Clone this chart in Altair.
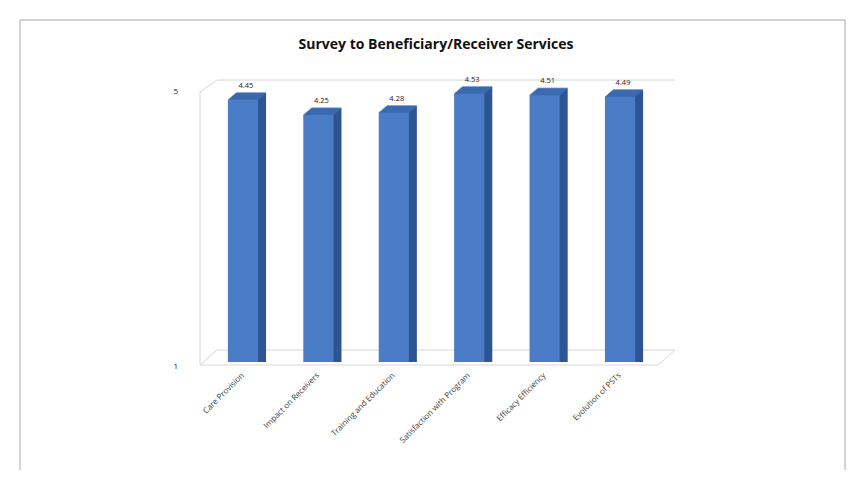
import altair as alt
import pandas as pd

categories = ["Care Provision", "Impact on Receivers", "Training and Education",
              "Satisfaction with Program", "Efficacy Efficiency", "Evolution of PSTs"]
values = [4.45, 4.25, 4.28, 4.53, 4.51, 4.49]
labels = ["4.45", "4.25", "4.28", "4.53", "4.51", "4.49"]
y_tick_labels = ["5", "1"]
title_text = "Survey to Beneficiary/Receiver Services"

df = pd.DataFrame({"cat": categories, "val": values, "lab": labels})

W, H = 463, 304
FONT = "Open Sans"
LINE = "#d6d6d6"

xs = alt.X("cat:N", sort=categories,
           scale=alt.Scale(paddingInner=0.6, paddingOuter=0.37),
           axis=alt.Axis(title=None, labelAngle=-45, labelAlign="right", labelBaseline="middle",
                         labelFontSize=8, labelColor="#3a3a3a", labelPadding=12,
                         ticks=False, domain=False, labelFont=FONT))
ys = alt.Y("val:Q", scale=alt.Scale(domain=[1, 5]), axis=None)

base = alt.Chart(df)
one = alt.Chart(pd.DataFrame({"a": [0]}))

def rule(x, x2, y, y2):
    return one.mark_rule(color=LINE, strokeWidth=1).encode(
        x=alt.value(x), x2=alt.value(x2), y=alt.value(y), y2=alt.value(y2))

frame = one.mark_rect(fill=None, stroke="#a8a8a8", strokeWidth=1).encode(
    x=alt.value(-180), x2=alt.value(645), y=alt.value(-38), y2=alt.value(430)
)

walls = [
    rule(0, 0, 34, 307),       # left wall
    rule(0, 17, 34, 22),       # top-left diagonal
    rule(17, 475, 22, 22),     # back wall top
    rule(17, 475, 292, 292),   # floor back
    rule(0, 17, 307, 292),     # floor left diagonal
]
floor_front = [rule(0, 458, 307, 307), rule(458, 475, 307, 292)]

side_layers = [
    base.mark_bar(color="#2d5592", xOffset=k, yOffset=-k * 0.85).encode(x=xs, y=ys, y2=alt.datum(1))
    for k in range(1, 9)
]
top_layers = [
    base.mark_tick(color="#3f6db5", orient="horizontal", size=30, thickness=1.6,
                   xOffset=k, yOffset=-k * 0.85).encode(x=xs, y=ys)
    for k in range(0, 9)
]
front = base.mark_bar(color="#4a7dc6").encode(x=xs, y=ys, y2=alt.datum(1))
text = base.mark_text(fontSize=7.5, color="#222", dy=-14, dx=3, font=FONT).encode(
    x=xs, y=ys, text="lab:N"
)

ylab5 = one.mark_text(fontSize=8, color="#222", font=FONT, align="right").encode(
    x=alt.value(-22), y=alt.value(34), text=alt.value(y_tick_labels[0]))
ylab1 = one.mark_text(fontSize=8, color="#222", font=FONT, align="right").encode(
    x=alt.value(-22), y=alt.value(309), text=alt.value(y_tick_labels[1]))
title = one.mark_text(fontSize=14, color="#111", font=FONT, fontWeight="bold").encode(
    x=alt.value(236), y=alt.value(-13), text=alt.value(title_text))

chart = alt.layer(frame, *walls, *side_layers, *top_layers, front, *floor_front,
                  text, ylab5, ylab1, title).properties(
    width=W, height=H,
    background="white",
    autosize=alt.AutoSizeParams(type="none"),
    padding={"left": 192, "top": 50, "right": 196, "bottom": 108},
).configure_view(stroke=None)

chart.save("out.html", embed_options={"renderer": "svg", "actions": False})
